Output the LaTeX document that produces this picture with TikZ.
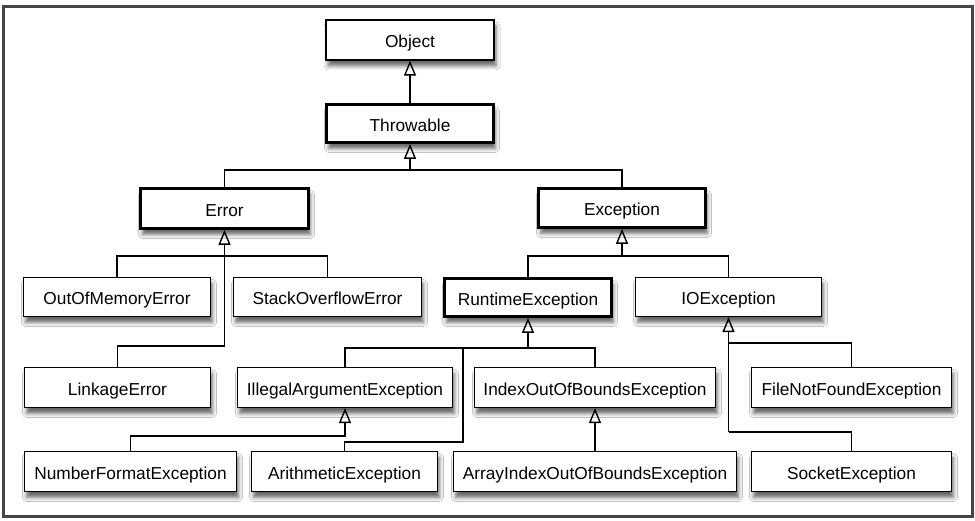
\documentclass[tikz,border=0pt]{standalone}
\usepackage{fontspec}
\setmainfont{Liberation Sans}
\usetikzlibrary{arrows.meta,shadows.blur}
\definecolor{framegray}{HTML}{464646}
\tikzset{
  cls/.style={draw=black, fill=white, line width=1.2pt, inner sep=0pt,
    minimum height=40pt, text height=16pt, text depth=0pt,
    font=\fontsize{17.3}{20}\selectfont,
    blur shadow={shadow xshift=2pt, shadow yshift=-6pt, shadow blur radius=4pt, shadow opacity=60}},
  thick cls/.style={cls, line width=2.8pt},
  conn/.style={draw=black, line width=1.4pt},
  inh/.style={conn, -{Triangle[open, length=15pt, width=12pt, line width=1.4pt]}}
}
\begin{document}
\begin{tikzpicture}[x=1pt,y=-1pt]
\useasboundingbox (0,0) rectangle (975,521);
\fill[white] (0,0) rectangle (975,521);
\draw[framegray, line width=3pt] (3.5,6.5) rectangle (972.5,516.5);

\node[cls, minimum width=168pt] (object) at (410,40) {Object};
\node[thick cls, minimum width=167pt, minimum height=38pt] (throwable) at (410,123.5) {Throwable};
\node[thick cls, minimum width=168pt] (error) at (224.5,208.5) {Error};
\node[thick cls, minimum width=167pt, minimum height=39pt] (exception) at (622,208) {Exception};
\node[cls, minimum width=187pt, minimum height=39pt] (oom) at (117,297) {OutOfMemoryError};
\node[cls, minimum width=188pt, minimum height=39pt] (soe) at (327.5,297) {StackOverflowError};
\node[thick cls, minimum width=167pt, minimum height=38pt] (runtime) at (528,297.5) {RuntimeException};
\node[cls, minimum width=186pt, minimum height=39pt] (io) at (728.5,297) {IOException};
\node[cls, minimum width=186pt] (linkage) at (117.5,387.5) {LinkageError};
\node[cls, minimum width=215pt] (illegal) at (345,387.5) {IllegalArgumentException};
\node[cls, minimum width=241pt] (index) at (595,387.5) {IndexOutOfBoundsException};
\node[cls, minimum width=200pt] (fnf) at (851.5,387.5) {FileNotFoundException};
\node[cls, minimum width=212pt] (nfe) at (130.5,471.5) {NumberFormatException};
\node[cls, minimum width=186pt] (arith) at (344.5,471.5) {ArithmeticException};
\node[cls, minimum width=283pt] (aioob) at (595,471.5) {ArrayIndexOutOfBoundsException};
\node[cls, minimum width=200pt] (socket) at (851.5,471.5) {SocketException};

% junctions
\coordinate (jT) at (410,170);
\coordinate (jE) at (224.5,256);
\coordinate (jL) at (224.5,346);
\coordinate (jX) at (622,256);
\coordinate (jR) at (528,348);
\coordinate (jA) at (463,442);
\coordinate (jI) at (345,436);
\coordinate (jO1) at (728.5,343);
\coordinate (jO2) at (728.5,432);

\draw[inh] (throwable.north) -- (object.south);

\draw[conn] (error.north) |- (jT) -| (exception.north);
\draw[inh] (jT) -- (throwable.south);

\draw[conn] (oom.north) |- (jE) -| (soe.north);
\draw[conn] (linkage.north) |- (jL);
\draw[inh] (jL) -- (error.south);

\draw[conn] (runtime.north) |- (jX) -| (io.north);
\draw[inh] (jX) -- (exception.south);

\draw[conn] (illegal.north) |- (jR) -| (index.north);
\draw[conn] (arith.north) |- (jA) |- (jR);
\draw[inh] (jR) -- (runtime.south);

\draw[inh] (nfe.north) |- (jI) -- (illegal.south);
\draw[inh] (aioob.north) -- (index.south);

\draw[conn] (fnf.north) |- (jO1);
\draw[conn] (socket.north) |- (jO2);
\draw[inh] (jO2) -- (io.south);
\end{tikzpicture}
\end{document}
